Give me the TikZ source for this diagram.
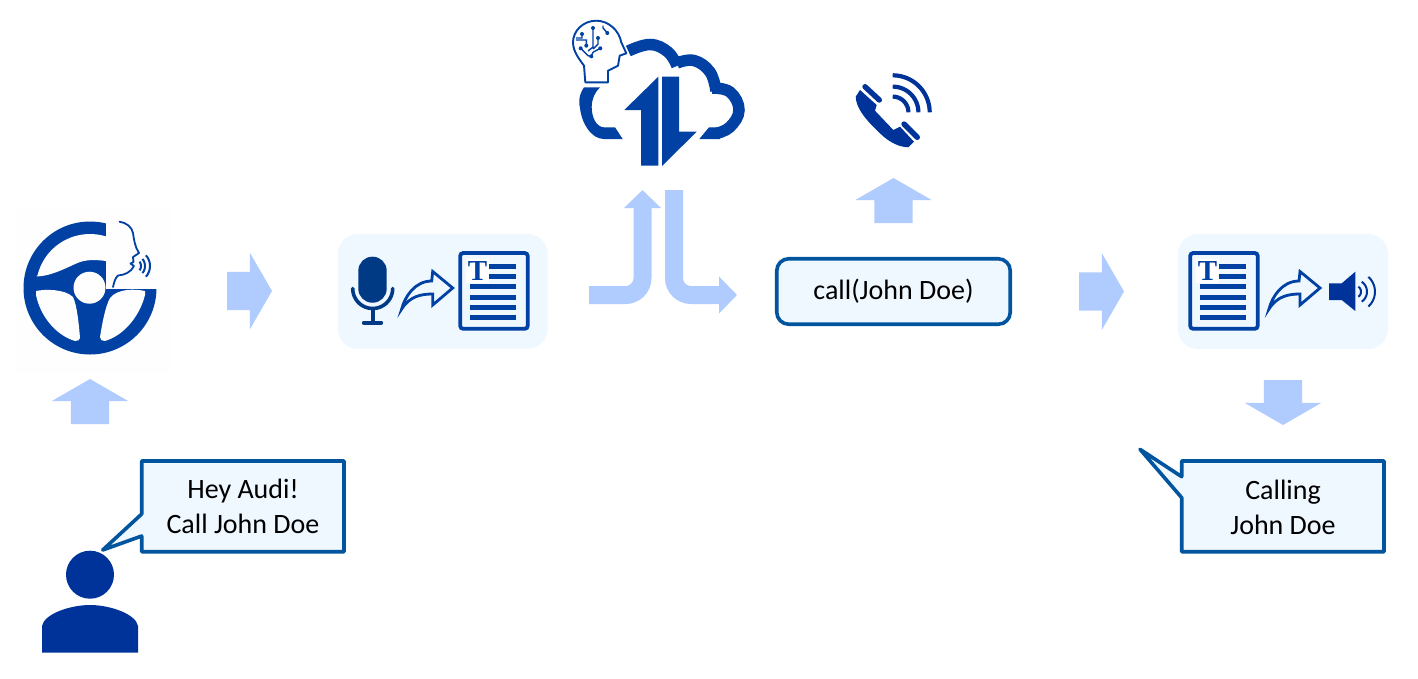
\documentclass[tikz,border=0pt]{standalone}
\usepackage{fontspec}
\setmainfont{Carlito}
\newfontfamily\docfont{Liberation Serif}
\usetikzlibrary{shapes.arrows, arrows.meta}
\definecolor{iconblue}{HTML}{0041A3}
\definecolor{darkblue}{HTML}{003399}
\definecolor{micblue}{HTML}{003A85}
\definecolor{linkblue}{HTML}{B0CCFF}
\definecolor{paleblue}{HTML}{EFF7FF}
\definecolor{edgeblue}{HTML}{00559E}
\definecolor{wheelback}{HTML}{FEFEFE}
\tikzset{
    pics/curvedarrow/.style={code={
        \draw[iconblue, line width=2.8, line join=miter, fill=paleblue] (0,0) .. controls (3,-12) and (13,-28) .. (30,-28) -- (31,-37.5) -- (51,-21) -- (31,-4) -- (31,-15) .. controls (20,-15) and (8,-13) .. (0,0) -- cycle;
    }},
    pics/textdoc/.style={code={
        \draw[iconblue, line width=3.8, rounded corners=3, fill=paleblue] (0,0) rectangle (67.5,75.8);
        \foreach \rowy in {33.3, 44.3, 54.3, 64.3}
            \draw[iconblue, line width=5] (10,\rowy) -- (55.8,\rowy);
        \foreach \rowy in {13.3, 23.3}
            \draw[iconblue, line width=5] (29,\rowy) -- (55.8,\rowy);
        \node[fill=white, inner sep=0pt, minimum width=23, minimum height=24.5, text=iconblue, font=\docfont\bfseries\fontsize{29}{29}\selectfont] at (17.3,18) {T};
    }}
}
\begin{document}
\begin{tikzpicture}[
    x=1pt, y=-1pt,
    blockarrow/.style={single arrow, fill=linkblue, inner sep=0pt, outer sep=0pt, text height=19pt, text depth=19pt, text width=0pt, minimum height=45, single arrow head extend=19, single arrow tip angle=120, anchor=tail},
    bentarrow/.style={line width=18, draw=linkblue, rounded corners=17, -{Triangle[length=18, width=36]}},
    panel/.style={fill=paleblue, rounded corners=20},
    bubble/.style={draw=edgeblue, fill=paleblue, line width=3.6, line join=round},
    saytext/.style={align=center, font=\fontsize{28}{35}\selectfont, inner sep=0pt},
    wave/.style={line width=2, iconblue}
]
    \useasboundingbox (0,0) rectangle (1418,678);

    % Steering wheel with speaker
    \fill[wheelback] (16,208) rectangle (170,373);
    \fill[iconblue] (90,288) circle[radius=66.5];
    \fill[wheelback] plot[domain=194:300, samples=24] ({90+54*cos(\x)},{288+54*sin(\x)}) -- (130,261) -- (106,261) .. controls (95,259.5) and (85,259.5) .. (76.7,263.3) .. controls (62,270) and (50,276) .. (36.7,276.5) -- cycle;
    \fill[wheelback] (36,291) .. controls (45,289) and (65,289) .. (73,297) .. controls (77,305) and (79,325) .. (80,338) .. controls (80,340) and (78,341) .. (75,341) .. controls (55,335) and (40,315) .. (36,295) -- cycle;
    \fill[wheelback] (145,291) .. controls (136,289) and (118,288) .. (110,298) .. controls (105,307) and (102,325) .. (100,337) .. controls (100,340) and (102,341) .. (105,341) .. controls (125,335) and (140,315) .. (145,295) -- cycle;
    \fill[wheelback] (89.5,287.7) circle[radius=16];
    \fill[wheelback] (106,208) rectangle (170,289);
    \draw[iconblue, line width=1.8, line cap=round, line join=round] (119.5,221.7) .. controls (126,222.5) and (132,227) .. (133,233) .. controls (134,240) and (135,247) .. (139,253) -- (133,257) -- (133.5,262) -- (130.5,263.5) -- (134,266) .. controls (131,272) and (125,275) .. (118,275.5) .. controls (115,278) and (114,283) .. (113,287);
    \foreach \rad/\ang in {7/38, 11/40, 16/42}
        \draw[wave] plot[domain=-\ang:\ang, samples=10] ({134+\rad*cos(\x)},{266+\rad*sin(\x)});

    % Person and spoken command
    \fill[darkblue] (90,574.7) circle[radius=24];
    \fill[darkblue] (42,652.7) -- (42,626) .. controls (44,614) and (70,605) .. (90,605) .. controls (110,605) and (136,614) .. (138,626) -- (138,652.7) -- cycle;
    \draw[bubble] (141.7,461) -- (344,461) -- (344,551.7) -- (141.7,551.7) -- (141.7,536) -- (102.7,550) -- (141.7,514) -- cycle;
    \node[saytext] (heyaudi) at (243,506.5) {Hey Audi!\\Call John Doe};

    % Speech to text
    \fill[panel] (337.7,234) rectangle (547.7,348.7);
    \fill[micblue, rounded corners=14] (358.3,256.7) rectangle (386.7,302.7);
    \draw[micblue, line width=3.6, line cap=round] plot[domain=0:180, samples=24] ({372.7+20*cos(\x)},{288.5+20*sin(\x)});
    \draw[micblue, line width=3.6] (372.7,308) -- (372.7,322.7);
    \draw[micblue, line width=4.4, line cap=round] (364,322.7) -- (381,322.7);
    \pic at (401.7,309) {curvedarrow};
    \pic at (460.2,253) {textdoc};

    % Cloud with AI head
    \fill[iconblue] (584,87.3) .. controls (578,96) and (579,104) .. (580,108) .. controls (582,125) and (592,139) .. (604,139) -- (622.7,139) -- (615,127.3) -- (604,127.3) .. controls (596,127) and (591.7,117) .. (591.7,107) .. controls (591.7,99) and (595,92) .. (600,87.3) -- cycle;
    \draw[iconblue, line width=11.5] plot[smooth, tension=0.7] coordinates {(628.3,51) (650,44.5) (668,52) (677,66)};
    \draw[iconblue, line width=11.5] plot[smooth, tension=0.7] coordinates {(677,63) (694,60.5) (710,72) (716,91)};
    \draw[iconblue, line width=11.5] plot[smooth, tension=0.7] coordinates {(712,88) (730,92) (739,110) (730,127) (716,133.5)};
    \fill[iconblue] (720,139) -- (699.3,139) -- (709,127.3) -- (720,127.3) -- cycle;
    \fill[iconblue] (658.3,76.7) -- (624.3,110) -- (641,110) -- (641,165.7) -- (658.3,165.7) -- cycle;
    \fill[iconblue] (662,76.7) -- (679,76.7) -- (679,131.7) -- (696.7,131.7) -- (662,166) -- cycle;
    \draw[iconblue, line width=1.9, line join=round] (585.3,82.3) -- (608,82.3) -- (608,70.7) -- (618,65.7) -- (619.7,55.7) -- (626.3,53.3) -- (621.3,42.3) .. controls (619,30) and (608,20.7) .. (596.3,20.7) .. controls (583,20.7) and (573,31) .. (573,42.3) .. controls (573,52) and (580,60) .. (584,65.7) -- cycle;
    \draw[iconblue, line width=1.4] (593,28) -- (593,47) -- (588,51) (582,34) -- (582,38) -- (576,38) (586.3,45.7) -- (586.3,40) -- (576,40) (607.3,33) -- (603,28) -- (603,25.7) (598,38) -- (598,44) -- (593,49) (580.7,48.3) -- (588,55.7) -- (591.3,56.3) (600.3,48.3) -- (593,52.3) -- (591.3,56.3);
    \foreach \dotx/\doty in {582/34, 593/28, 607.3/33, 586.3/45.7, 598/38, 580.7/48.3, 600.3/48.3, 591.3/56.3}
        \fill[iconblue] (\dotx,\doty) circle[radius=2];

    % Up and down link
    \coordinate (upstart) at (589,295);
    \coordinate (upbend) at (642.5,295);
    \coordinate (uptip) at (642.5,190);
    \coordinate (downstart) at (674,190);
    \coordinate (downbend) at (674,295);
    \coordinate (downtip) at (737,295);
    \draw[bentarrow] (upstart) -- (upbend) -- (uptip);
    \draw[bentarrow] (downstart) -- (downbend) -- (downtip);

    % Function call and phone
    \node[draw=edgeblue, fill=paleblue, line width=3.6, rounded corners=12, minimum width=233.5, minimum height=65.5, inner sep=0pt, font=\fontsize{28}{34}\selectfont] (funccall) at (893.5,291.5) {call(John Doe)};
    \fill[darkblue] (860,90) -- (876.7,105) -- (875,110.7) -- (893.3,130) -- (900,126.7) -- (914,141.7) -- (908.3,147.3) .. controls (896,147) and (885,139) .. (876.7,130) .. controls (866,120) and (856,108) .. (855.7,96.7) -- cycle;
    \draw[darkblue, line width=5.4, line cap=round] (865,86.7) -- (879.3,100);
    \draw[darkblue, line width=5.4, line cap=round] (904,124) -- (917.3,137.3);
    \foreach \rad in {15.7, 25.7, 37}
        \draw[darkblue, line width=4.2] plot[domain=-90:0, samples=20] ({892.7+\rad*cos(\x)},{112.3+\rad*sin(\x)});

    % Text to speech
    \fill[panel] (1178,234) rectangle (1388,349);
    \pic at (1190.2,253) {textdoc};
    \pic at (1269,309) {curvedarrow};
    \fill[darkblue] (1329,283.3) -- (1341.7,283.3) -- (1355.3,271.7) -- (1355.3,311) -- (1341.7,300) -- (1329,300) -- cycle;
    \foreach \rad/\ang in {6/56, 12/56, 20/48}
        \draw[wave, darkblue] plot[domain=-\ang:\ang, samples=10] ({1355+\rad*cos(\x)},{291.7+\rad*sin(\x)});

    % Spoken answer
    \draw[bubble] (1181.7,461) -- (1384,461) -- (1384,551.7) -- (1181.7,551.7) -- (1181.7,497.7) -- (1140,449.3) -- (1181.7,476.7) -- cycle;
    \node[saytext] (calling) at (1283,507) {Calling\\John Doe};

    % Block arrows
    \node[blockarrow] (wheelarrow) at (227,291) {};
    \node[blockarrow] (answerarrow) at (1079,291.5) {};
    \node[blockarrow, rotate=90] (personarrow) at (90,424) {};
    \node[blockarrow, rotate=90] (phonearrow) at (893.5,223) {};
    \node[blockarrow, rotate=-90] (speakerarrow) at (1283,380) {};
\end{tikzpicture}
\end{document}
